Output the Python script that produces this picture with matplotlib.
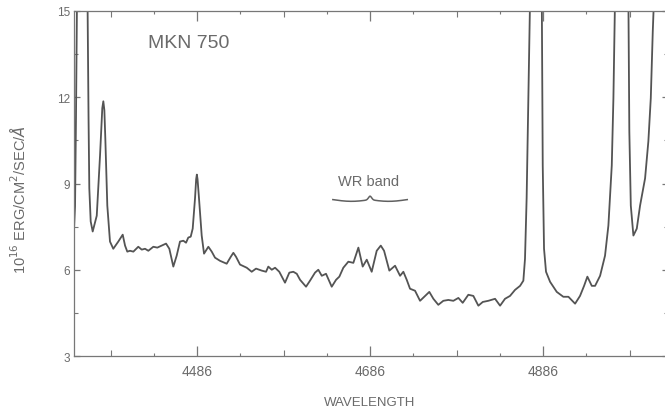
import numpy as np
import matplotlib
matplotlib.use("Agg")
import matplotlib.pyplot as plt

plt.rcParams['font.family'] = ['Liberation Sans', 'DejaVu Sans']

wavelength = [4343.8, 4345.0, 4346.1, 4347.3, 4353.1, 4359.4, 4360.6, 4361.5, 4363.1, 4365.4,
              4370.1, 4373.9, 4376.5, 4377.7, 4378.9, 4380.0, 4382.3, 4385.4, 4389.2, 4395.0,
              4400.1, 4402.8,
              4405.4, 4408.5, 4412.4, 4418.1, 4422.1, 4425.9, 4429.7, 4435.5, 4440.1, 4445.2,
              4450.2, 4454.0, 4458.6, 4462.5, 4466.3, 4470.2, 4473.3, 4475.9, 4478.7, 4481.0,
              4483.7, 4485.0, 4485.8, 4486.6, 4488.0, 4491.4, 4494.1, 4499.1, 4503.0, 4506.8,
              4512.6, 4520.3,
              4525.0, 4528.0, 4531.1, 4535.7, 4543.5, 4549.2, 4554.2, 4560.8, 4565.8, 4568.4,
              4572.4, 4576.2, 4581.1, 4587.7, 4592.7, 4597.3, 4601.3, 4605.1, 4612.0, 4616.6,
              4622.4, 4626.2, 4630.2, 4635.1, 4641.7, 4646.7, 4650.5, 4655.1, 4660.9, 4666.7,
              4672.5, 4677.5, 4682.2, 4687.9, 4693.7, 4698.4, 4702.2, 4708.3, 4714.9, 4720.7,
              4724.5, 4728.4, 4732.2, 4738.0, 4743.8, 4749.6, 4754.5, 4759.2, 4764.9, 4770.7,
              4776.5, 4782.3, 4788.1, 4793.1, 4799.6, 4805.4, 4811.2, 4816.3, 4822.7, 4830.5,
              4836.3, 4842.0, 4847.8, 4853.6, 4859.4, 4863.2, 4865.1, 4867.0, 4869.0, 4871.0,
              4878.0, 4884.5, 4885.6, 4887.1, 4889.4, 4894.1, 4901.8, 4909.4, 4915.3, 4923.0,
              4928.7, 4933.4, 4937.2, 4942.3, 4946.1, 4951.9, 4957.6, 4961.5, 4965.4, 4967.3,
              4969.2, 4976.7, 4984.6, 4985.7, 4987.4, 4990.4, 4994.3, 4998.1, 5003.9, 5007.7,
              5010.5, 5012.8, 5014.3, 5021.2]
flux = [7.40, 8.20, 11.30, 15.50, 30.0, 15.50, 11.30, 8.83, 7.68, 7.33,
        7.88, 9.98, 11.62, 11.86, 11.55, 10.57, 8.23, 6.98, 6.73, 6.98,
        7.22, 6.84,
        6.63, 6.66, 6.63, 6.80, 6.70, 6.73, 6.66, 6.80, 6.77, 6.84,
        6.91, 6.73, 6.11, 6.49, 6.98, 7.01, 6.94, 7.12, 7.15, 7.43,
        8.49, 9.15, 9.31, 9.15, 8.60, 7.19, 6.56, 6.80, 6.63, 6.42,
        6.31, 6.21,
        6.45, 6.59, 6.45, 6.18, 6.07, 5.93, 6.04, 5.97, 5.93, 6.11,
        6.00, 6.07, 5.93, 5.55, 5.90, 5.93, 5.86, 5.65, 5.41, 5.62,
        5.90, 6.00, 5.79, 5.86, 5.41, 5.65, 5.76, 6.07, 6.28, 6.24,
        6.77, 6.11, 6.35, 5.93, 6.66, 6.84, 6.66, 5.97, 6.14, 5.79,
        5.93, 5.65, 5.34, 5.27, 4.92, 5.09, 5.23, 4.99, 4.78, 4.92,
        4.95, 4.92, 5.02, 4.85, 5.13, 5.09, 4.75, 4.88, 4.92, 4.99,
        4.75, 4.99, 5.09, 5.30, 5.44, 5.62, 6.38, 8.50, 11.97, 15.50,
        40.0, 15.50, 9.63, 6.73, 5.93, 5.58, 5.23, 5.06, 5.06, 4.82,
        5.09, 5.44, 5.76, 5.44, 5.44, 5.79, 6.49, 7.54, 9.63, 11.97,
        15.50, 40.0, 15.50, 10.81, 8.23, 7.19, 7.43, 8.23, 9.18, 10.47,
        11.97, 14.30, 15.50, 30.0]

x_major = [4486, 4686, 4886]
x_medium = [4386, 4586, 4786, 4986]
x_small = [4436, 4536, 4636, 4736, 4836, 4936]
y_major = [3, 6, 9, 12, 15]
y_minor = [4.5, 7.5, 10.5, 13.5]

wr_band = (4643, 4729)

grey = '#6a6a6a'

fig = plt.figure(figsize=(6.65, 4.14), dpi=100)
ax = fig.add_axes([74 / 665, 1 - 357 / 414, 1 - 74 / 665 + 0.004, (357 - 12) / 414])

ax.plot(wavelength, flux, color='#545454', lw=1.3, solid_joinstyle='round')
ax.set_xlim(4343.8, 5030)
ax.set_ylim(3, 15)

ax.set_xticks(x_major)
ax.set_xticks(x_medium, minor=True)
ax.set_yticks(y_major)
ax.set_yticks(y_minor, minor=True)
ax.tick_params(which='major', direction='in', length=7, width=0.9, color='#777777',
               top=True, right=True, labelsize=10, labelcolor=grey, pad=6)
ax.tick_params(which='minor', direction='in', length=4.5, width=0.8, color='#777777',
               top=True, right=True)
ax.tick_params(axis='y', which='major', length=4, labelsize=8.5, pad=3)
ax.tick_params(axis='y', which='minor', length=3)

# third, shortest tick level at the odd 50 A marks
for loc in ['bottom', 'top']:
    sec = ax.secondary_xaxis(loc)
    sec.set_xticks(x_small)
    sec.tick_params(direction='in', length=2.5, width=0.8, color='#777777',
                    labelbottom=False, labeltop=False)
    for s in sec.spines.values():
        s.set_visible(False)

for s in ax.spines.values():
    s.set_color('#777777')
    s.set_linewidth(0.9)

ax.text(0.125, 0.895, 'MKN 750', transform=ax.transAxes, fontsize=14, color=grey)

# WR band label with a horizontal brace under it
ax.text(sum(wr_band) / 2 - 2, 9.07, 'WR band', ha='center', va='center',
        fontsize=10.5, color=grey)
t = np.linspace(0, 1, 200)
bx = wr_band[0] + t * (wr_band[1] - wr_band[0])
half = np.where(t < 0.5, t / 0.5, (1 - t) / 0.5)
by = 8.44 - 0.06 * np.sin(np.pi * half) + 0.12 * np.exp(-((t - 0.5) / 0.03) ** 2)
ax.plot(bx, by, color='#606060', lw=1.1)

fig.text(18 / 665, 1 - 200 / 414, r'10$^{16}$ ERG/CM$^2$/SEC/$\AA$', rotation=90,
         ha='center', va='center', fontsize=10.5, color=grey)
fig.text(370 / 665, 1 - 403 / 414, 'WAVELENGTH', ha='center', va='center',
         fontsize=9.5, color=grey)

fig.savefig('out.png', dpi=100, facecolor='white')
